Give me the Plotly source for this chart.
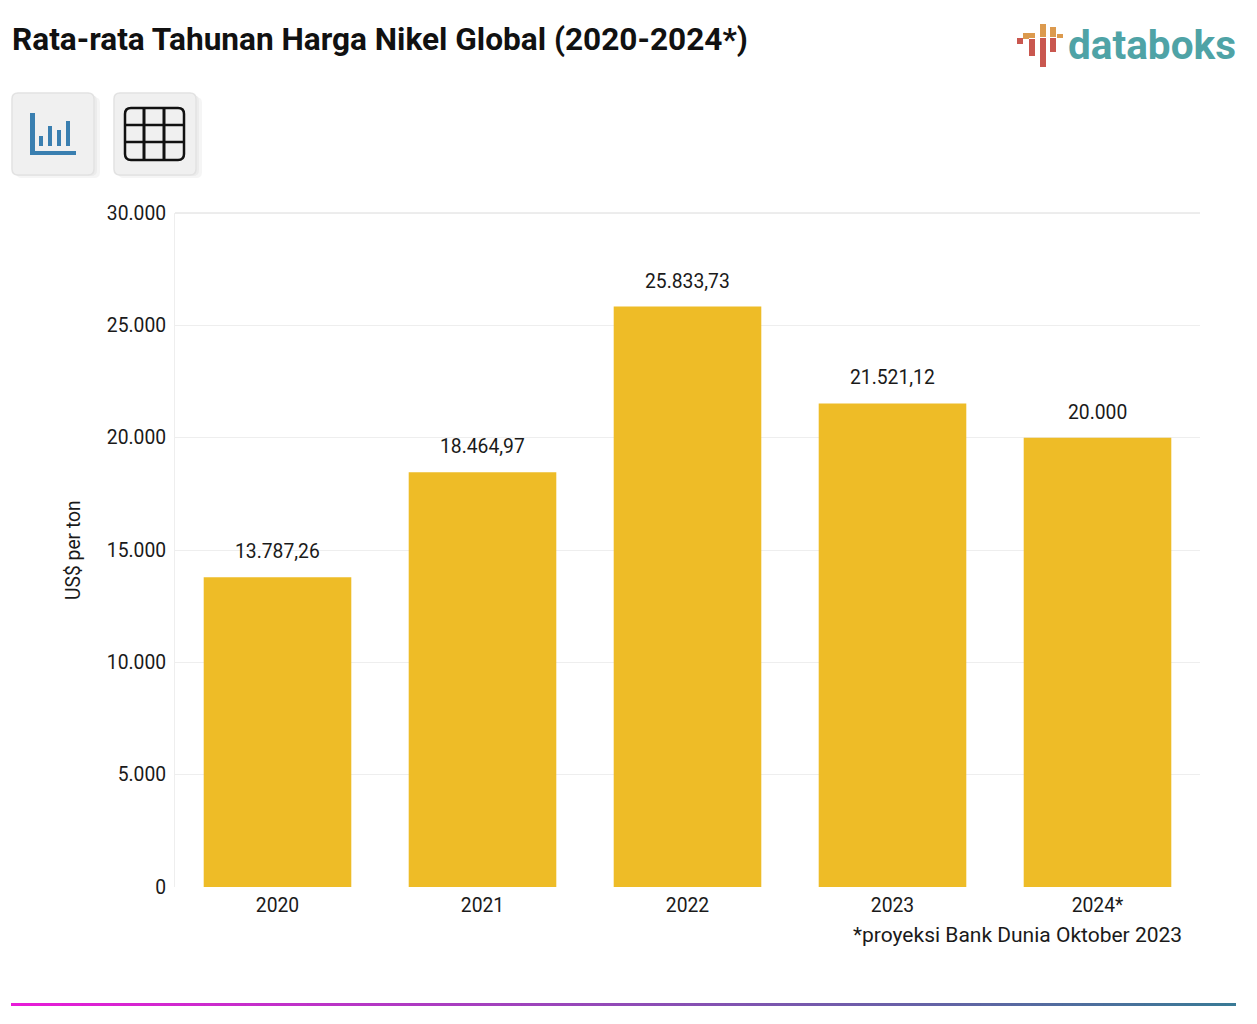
import plotly.graph_objects as go

W, H = 1257, 1024

# data
tahun = ["2020", "2021", "2022", "2023", "2024*"]
harga = [13787.26, 18464.97, 25833.73, 21521.12, 20000]
label = ["13.787,26", "18.464,97", "25.833,73", "21.521,12", "20.000"]
y_ticks = [0, 5000, 10000, 15000, 20000, 25000, 30000]


def px_x(x):
    return x / W


def px_y(y):
    return 1 - y / H


def kotak(x0, y0, x1, y1, fill=None, line=None, lw=0, layer="above", radius=0):
    # rectangle in page pixels, rounded when radius is given
    a, b, c, d = px_x(x0), px_y(y0), px_x(x1), px_y(y1)
    if radius:
        rx, ry = radius / W, radius / H
        path = (f"M {a+rx} {b} L {c-rx} {b} Q {c} {b} {c} {b-ry} L {c} {d+ry} Q {c} {d} {c-rx} {d} "
                f"L {a+rx} {d} Q {a} {d} {a} {d+ry} L {a} {b-ry} Q {a} {b} {a+rx} {b} Z")
        return dict(type="path", path=path, xref="paper", yref="paper", fillcolor=fill or "rgba(0,0,0,0)",
                    line=dict(color=line or "rgba(0,0,0,0)", width=lw), layer=layer)
    return dict(type="rect", x0=a, y0=b, x1=c, y1=d, xref="paper", yref="paper",
                fillcolor=fill or "rgba(0,0,0,0)", line=dict(color=line or "rgba(0,0,0,0)", width=lw), layer=layer)


shapes = []

# chart / table buttons
for x0 in (12, 114):
    shapes.append(kotak(x0 + 4, 97, x0 + 88, 178, fill="#f5f5f5", radius=6))
    shapes.append(kotak(x0 + 2, 95, x0 + 85, 176, fill="#ececec", radius=6))
    shapes.append(kotak(x0, 93, x0 + 82, 175, fill="#f0f0f0", line="#e2e2e2", lw=1.5, radius=6))

# chart icon
biru = "#3a7fb0"
shapes.append(kotak(30, 113, 35, 155, fill=biru))
shapes.append(kotak(30, 151, 76, 155, fill=biru))
for x0, y0 in ((39, 136), (48, 126), (57, 130), (66, 121)):
    shapes.append(kotak(x0, y0, x0 + 4, 146, fill=biru))

# table icon
shapes.append(kotak(125, 108, 184, 160, line="#111111", lw=2.5, radius=6))
for x in (144, 164):
    shapes.append(kotak(x, 108, x, 160, line="#111111", lw=3))
for y in (125, 142):
    shapes.append(kotak(125, y, 184, y, line="#111111", lw=2.5))

# logo bars
for x0, y0, y1, warna in (
    (1017, 38, 44, "#c9574f"), (1023, 33, 39, "#dc9a4e"),
    (1029, 39, 56, "#c9574f"), (1029, 33, 38, "#dc9a4e"),
    (1040, 24, 37, "#dc9a4e"), (1040, 38, 67, "#c9574f"),
    (1050, 27, 37, "#dc9a4e"), (1050, 38, 52, "#c9574f"),
    (1057, 34, 38, "#dc9a4e"),
):
    shapes.append(kotak(x0, y0, x0 + 6, y1, fill=warna))

# top grid line is a bit darker than the rest
shapes.append(kotak(175, 213, 1200, 213, line="#e6e6e6", lw=1, layer="below"))

# gradient rule at the bottom
n = 120
for i in range(n):
    t = i / (n - 1)
    r = int(232 + (58 - 232) * t)
    g = int(28 + (122 - 28) * t)
    b = int(216 + (150 - 216) * t)
    x0 = 11 + (1236 - 11) * i / n
    x1 = 11 + (1236 - 11) * (i + 1) / n
    shapes.append(kotak(x0, 1003, min(x1 + 1, 1236), 1006, fill=f"rgb({r},{g},{b})"))

fig = go.Figure(go.Bar(x=tahun, y=harga, marker=dict(color="#eebc27", line_width=0), hoverinfo="skip"))

font_tick = dict(family="Roboto", size=19.3, color="#1a1a1a")

annotations = [
    dict(x=px_x(10), y=px_y(39), xref="paper", yref="paper", xanchor="left", yanchor="middle", showarrow=False,
         text="<b>Rata-rata Tahunan Harga Nikel Global (2020-2024*)</b>",
         font=dict(family="Roboto", size=31.6, color="#111111")),
    dict(x=px_x(1066), y=px_y(45), xref="paper", yref="paper", xanchor="left", yanchor="middle", showarrow=False,
         text="<b>databoks</b>", font=dict(family="Roboto", size=40.5, color="#4fa3a6")),
    dict(x=px_x(73), y=px_y(550), xref="paper", yref="paper", xanchor="center", yanchor="middle", showarrow=False,
         text="US$ per ton", textangle=-90, font=font_tick),
    dict(x=px_x(1184), y=px_y(935), xref="paper", yref="paper", xanchor="right", yanchor="middle", showarrow=False,
         text="*proyeksi Bank Dunia Oktober 2023", font=dict(family="Roboto", size=21, color="#1a1a1a")),
]
# category positions by index, a string like "2020" is read as a number here
for i, (v, s) in enumerate(zip(harga, label)):
    annotations.append(dict(x=i, y=v, xref="x", yref="y", yanchor="bottom", yshift=12, showarrow=False,
                            text=s, font=font_tick))

fig.update_layout(
    width=W, height=H,
    margin=dict(l=0, r=0, t=0, b=0, autoexpand=False),
    paper_bgcolor="white", plot_bgcolor="white",
    showlegend=False,
    bargap=0.28,
    separators=",.",
    shapes=shapes,
    annotations=annotations,
    xaxis=dict(domain=[px_x(175), px_x(1200)], type="category", range=[-0.5, 4.5], tickfont=font_tick, showgrid=False,
               ticks="outside", ticklen=1, tickcolor="rgba(0,0,0,0)", showline=False, zeroline=False),
    yaxis=dict(domain=[px_y(887), px_y(213)], range=[0, 30000], tickvals=y_ticks, tickformat=",.0f",
               tickfont=font_tick, gridcolor="#eeeeee", gridwidth=1, zeroline=False,
               showline=True, linecolor="#eeeeee", linewidth=1,
               ticks="outside", ticklen=4, tickcolor="rgba(0,0,0,0)"),
)

fig.write_html("out.html", config=dict(displayModeBar=False),
               post_script="document.body.style.margin='0';")
